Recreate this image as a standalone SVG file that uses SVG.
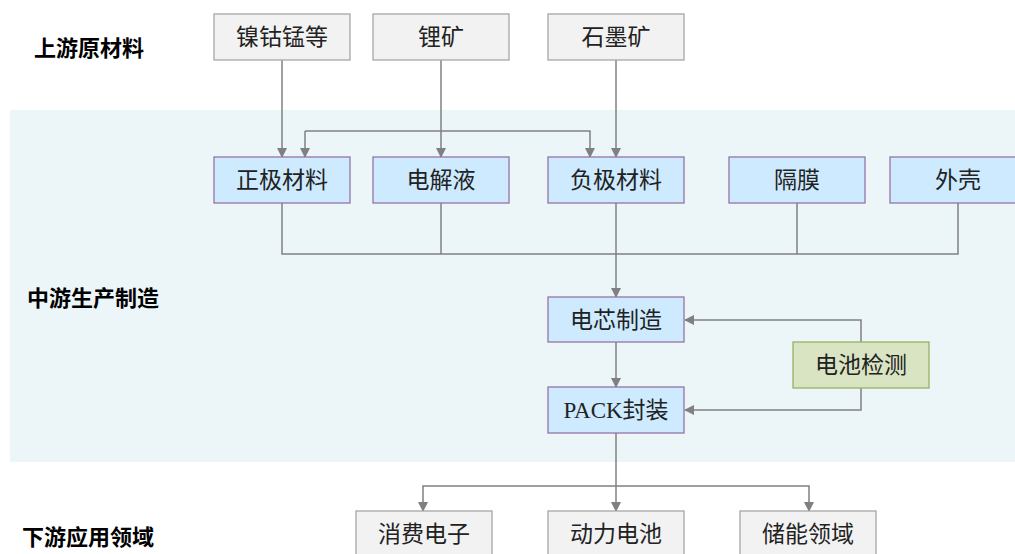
<svg xmlns="http://www.w3.org/2000/svg" width="1015" height="554" viewBox="0 0 1015 554">
<defs>
<marker id="ah" markerWidth="10" markerHeight="12" refX="9" refY="5" orient="auto" markerUnits="userSpaceOnUse" viewBox="0 0 10 10">
<path d="M0,0 L10,5 L0,10 Z" fill="#808080"/>
</marker>
</defs>
<style>
.t{font-family:"Liberation Serif","Noto Sans CJK SC",serif;font-size:23px;fill:#222;text-anchor:middle;dominant-baseline:central}
.lab{font-family:"Liberation Sans","Noto Sans CJK SC",sans-serif;font-size:22px;font-weight:bold;fill:#000}
.g{fill:#f2f2f2;stroke:#a6a6a6;stroke-width:1.3}
.b{fill:#cdeafe;stroke:#9673a6;stroke-width:1.3}
.gr{fill:#d9e4c2;stroke:#98b063;stroke-width:1.3}
.c{fill:none;stroke:#808080;stroke-width:1.5}
.a{marker-end:url(#ah)}
</style>
<rect x="10" y="110" width="1005" height="352" fill="#ecf5f8"/>
<text class="lab" x="34" y="56">上游原材料</text>
<text class="lab" x="27" y="306">中游生产制造</text>
<text class="lab" x="22" y="545">下游应用领域</text>
<g id="connectors">
<path class="c a" d="M282,60 V157"/>
<path class="c a" d="M441,60 V157"/>
<path class="c a" d="M616,60 V157"/>
<path class="c a" d="M305,131 V157"/>
<path class="c a" d="M305,131 H590 V157"/>
<path class="c" d="M282,203 V254 H958 V203"/>
<path class="c" d="M441,203 V254"/>
<path class="c" d="M797,203 V254"/>
<path class="c a" d="M616,203 V297"/>
<path class="c a" d="M616,342 V387"/>
<path class="c a" d="M861,342 V320 H685"/>
<path class="c a" d="M861,388 V410 H685"/>
<path class="c a" d="M616,433 V511"/>
<path class="c a" d="M616,486 H423 V511"/>
<path class="c a" d="M616,486 H809 V511"/>
</g>
<g id="n1"><rect class="g" x="214" y="14" width="136" height="46"/><text class="t" x="282" y="37">镍钴锰等</text></g>
<g id="n2"><rect class="g" x="373" y="14" width="136" height="46"/><text class="t" x="441" y="37">锂矿</text></g>
<g id="n3"><rect class="g" x="548" y="14" width="136" height="46"/><text class="t" x="616" y="37">石墨矿</text></g>
<g id="n4"><rect class="b" x="214" y="157" width="136" height="46"/><text class="t" x="282" y="180">正极材料</text></g>
<g id="n5"><rect class="b" x="373" y="157" width="136" height="46"/><text class="t" x="441" y="180">电解液</text></g>
<g id="n6"><rect class="b" x="548" y="157" width="136" height="46"/><text class="t" x="616" y="180">负极材料</text></g>
<g id="n7"><rect class="b" x="729" y="157" width="136" height="46"/><text class="t" x="797" y="180">隔膜</text></g>
<g id="n8"><rect class="b" x="890" y="157" width="136" height="46"/><text class="t" x="958" y="180">外壳</text></g>
<g id="n9"><rect class="b" x="548" y="297" width="136" height="45"/><text class="t" x="616" y="320">电芯制造</text></g>
<g id="n10"><rect class="b" x="548" y="387" width="136" height="46"/><text class="t" x="616" y="410">PACK封装</text></g>
<g id="n11"><rect class="gr" x="793" y="342" width="136" height="46"/><text class="t" x="861" y="365">电池检测</text></g>
<g id="n12"><rect class="g" x="356" y="511" width="136" height="46"/><text class="t" x="424" y="534">消费电子</text></g>
<g id="n13"><rect class="g" x="548" y="511" width="136" height="46"/><text class="t" x="616" y="534">动力电池</text></g>
<g id="n14"><rect class="g" x="740" y="511" width="136" height="46"/><text class="t" x="808" y="534">储能领域</text></g>
</svg>
